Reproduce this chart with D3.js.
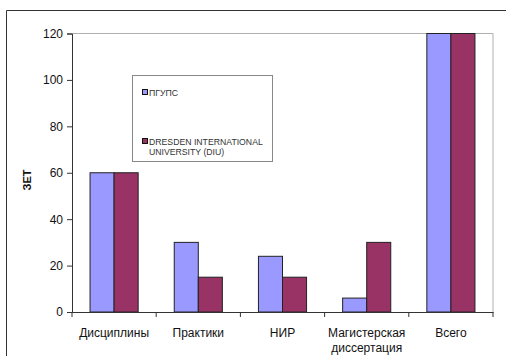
<!DOCTYPE html>
<html>
<head>
<meta charset="utf-8">
<script src="https://cdn.jsdelivr.net/npm/d3@7"></script>
<style>
  html, body { margin: 0; padding: 0; background: #fff; }
  svg { display: block; font-family: Arial, "Liberation Sans", sans-serif; }
</style>
</head>
<body>
<svg id="chart" width="506" height="356"></svg>
<script>
// Credits (ЗЕТ) per programme component
const categories = ["Дисциплины", "Практики", "НИР", "Магистерская диссертация", "Всего"];
const seriesNames = ["ПГУПС", "DRESDEN INTERNATIONAL UNIVERSITY (DIU)"];
const pgupsValues = [60, 30, 24, 6, 120];
const diuValues = [60, 15, 15, 30, 120];
const yTicks = [0, 20, 40, 60, 80, 100, 120];
const colors = ["#9999ff", "#993366"];

const svg = d3.select("#chart");
const plot = { left: 72, right: 493, top: 33.5, bottom: 312 };

// outer chart frame (top and left edges are visible)
svg.append("path")
  .attr("d", "M6.5,356 V10.5 H506")
  .attr("fill", "none").attr("stroke", "#333").attr("stroke-width", 1);

const x = d3.scaleBand().domain(categories).range([plot.left, plot.right]).paddingInner(0).paddingOuter(0);
const x1 = d3.scaleBand().domain([0, 1]).range([0, x.bandwidth()]).paddingInner(0).paddingOuter(0.75);
const y = d3.scaleLinear().domain([0, 120]).range([plot.bottom, plot.top]);

// plot area border (grey top and right)
svg.append("path")
  .attr("d", `M${plot.left},${plot.top} H${plot.right} V${plot.bottom}`)
  .attr("fill", "none").attr("stroke", "#b0b0b0").attr("stroke-width", 1);

// bars
const series = [pgupsValues, diuValues];
series.forEach((vals, si) => {
  svg.append("g").selectAll("rect")
    .data(categories.map((c, i) => ({ c, v: vals[i] })))
    .join("rect")
    .attr("x", d => x(d.c) + x1(si))
    .attr("y", d => y(d.v))
    .attr("width", x1.bandwidth())
    .attr("height", d => y(0) - y(d.v))
    .attr("fill", colors[si])
    .attr("stroke", "#222")
    .attr("stroke-width", 1);
});

// y axis
const yAxis = svg.append("g")
  .attr("transform", `translate(${plot.left},0)`)
  .call(d3.axisLeft(y).tickValues(yTicks).tickSize(5).tickPadding(4));
yAxis.select(".domain").attr("stroke", "#333");
yAxis.selectAll(".tick line").attr("stroke", "#333");
yAxis.selectAll("text").attr("font-size", 12).attr("font-family", "Arial, 'Liberation Sans', sans-serif").attr("fill", "#111");

// x axis with ticks at category boundaries
const xAxisG = svg.append("g").attr("transform", `translate(0,${plot.bottom})`);
xAxisG.call(d3.axisBottom(x).tickSize(0).tickFormat(""));
xAxisG.select(".domain").attr("stroke", "#333");
const bounds = categories.map(c => x(c)).concat([plot.right]);
xAxisG.selectAll("line.sep").data(bounds).join("line")
  .attr("class", "sep")
  .attr("x1", d => d).attr("x2", d => d)
  .attr("y1", 0).attr("y2", 5)
  .attr("stroke", "#333");

// category labels (wrapped)
const labelLines = { "Магистерская диссертация": ["Магистерская", "диссертация"] };
categories.forEach(c => {
  const lines = labelLines[c] || [c];
  const t = svg.append("text")
    .attr("x", x(c) + x.bandwidth() / 2)
    .attr("y", 337)
    .attr("text-anchor", "middle")
    .attr("font-size", 12)
    .attr("fill", "#111");
  lines.forEach((ln, i) => {
    t.append("tspan").attr("x", x(c) + x.bandwidth() / 2).attr("dy", i === 0 ? 0 : 15).text(ln);
  });
});

// y axis title
svg.append("text")
  .attr("transform", "translate(31,180) rotate(-90)")
  .attr("text-anchor", "middle")
  .attr("font-size", 11)
  .attr("font-weight", "bold")
  .attr("fill", "#111")
  .text("ЗЕТ");

// legend
const lg = svg.append("g");
lg.append("rect")
  .attr("x", 132.5).attr("y", 75.5).attr("width", 140).attr("height", 86)
  .attr("fill", "#fff").attr("stroke", "#888").attr("stroke-width", 1);
const legendItems = [
  { lines: [seriesNames[0]], y: 92 },
  { lines: ["DRESDEN INTERNATIONAL", "UNIVERSITY (DIU)"], y: 141 }
];
legendItems.forEach((it, i) => {
  lg.append("rect")
    .attr("x", 142.5).attr("y", it.y - 2.5).attr("width", 5).attr("height", 5)
    .attr("fill", colors[i]).attr("stroke", "#111").attr("stroke-width", 1);
  const t = lg.append("text")
    .attr("x", 149).attr("y", it.y + 3.5)
    .attr("font-size", 8.7).attr("fill", "#333");
  it.lines.forEach((ln, j) => {
    t.append("tspan").attr("x", 149).attr("dy", j === 0 ? 0 : 10).text(ln);
  });
});
</script>
</body>
</html>
